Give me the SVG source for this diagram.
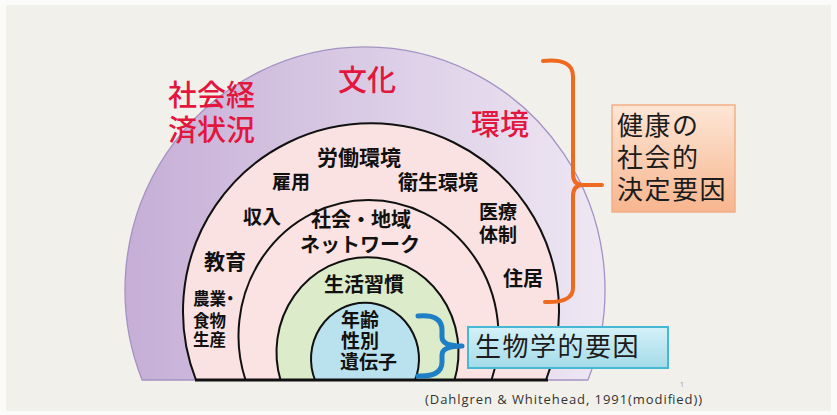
<svg xmlns="http://www.w3.org/2000/svg" width="837" height="415" viewBox="0 0 837 415">
<defs>
<linearGradient id="gPurple" x1="0" y1="0" x2="1" y2="0">
<stop offset="0" stop-color="#c6aed6"/>
<stop offset="0.5" stop-color="#dacbe5"/>
<stop offset="1" stop-color="#eee7f3"/>
</linearGradient>
<linearGradient id="gOrange" x1="0" y1="0" x2="0" y2="1">
<stop offset="0" stop-color="#fde6d6"/>
<stop offset="1" stop-color="#f7b58e"/>
</linearGradient>
<linearGradient id="gBlue" x1="0" y1="0" x2="0" y2="1">
<stop offset="0" stop-color="#d4f1f8"/>
<stop offset="1" stop-color="#a4dbe9"/>
</linearGradient>
<style>
.jp{font-family:"Noto Sans CJK JP","Noto Sans CJK SC",sans-serif}
.red{fill:#e3173e;font-size:29px;font-weight:500}
.lab{fill:#111;font-weight:bold}
.ring{stroke:#111;stroke-width:2}
.box{fill:#1c1c1c;font-size:26px;letter-spacing:1.5px}
</style>
</defs>
<rect width="837" height="415" fill="#fbfbf9"/>
<rect x="6" y="5" width="825" height="406" fill="#f1f0ea"/>

<g id="ring-outer">
<path d="M142.1,380 A240,243 0 1 1 587.9,380 Z" fill="url(#gPurple)" stroke="#a393c4" stroke-width="1.3"/>
</g>
<g id="ring-community">
<path d="M196,380 A188,188 0 1 1 546,380 Z" fill="#fbe2e2" class="ring"/>
</g>
<g id="ring-network">
<path d="M245.5,380 A130,136 0 1 1 491.5,380 Z" fill="#fbe3e3" class="ring"/>
</g>
<g id="ring-lifestyle">
<path d="M280.5,380 A91,95 0 1 1 454.5,380 Z" fill="#dcebca" class="ring"/>
</g>
<g id="ring-bio">
<path d="M315,380 A54,56 0 1 1 415,380 Z" fill="#b9e2ee" class="ring"/>
</g>
<line x1="195" y1="380" x2="548" y2="380" stroke="#111" stroke-width="3"/>

<g id="label-outer" class="jp red">
<text x="168" y="106">社会経</text>
<text x="168" y="141">済状況</text>
<text x="367" y="91" text-anchor="middle">文化</text>
<text x="500" y="135" text-anchor="middle">環境</text>
</g>

<g id="label-community" class="jp lab">
<text x="359" y="165" text-anchor="middle" font-size="21">労働環境</text>
<text x="291" y="189" text-anchor="middle" font-size="19">雇用</text>
<text x="438" y="190" text-anchor="middle" font-size="20">衛生環境</text>
<text x="262" y="224" text-anchor="middle" font-size="19">収入</text>
<text x="225" y="269" text-anchor="middle" font-size="21">教育</text>
<text x="193" y="305" font-size="16.5">農業<tspan dx="-4">・</tspan></text>
<text x="193" y="327" font-size="16.5">食物</text>
<text x="193" y="346" font-size="16.5">生産</text>
<text x="479" y="219" font-size="19">医療</text>
<text x="479" y="242" font-size="19">体制</text>
<text x="523" y="286" text-anchor="middle" font-size="20">住居</text>
</g>

<g id="label-network" class="jp lab">
<text x="361" y="227" text-anchor="middle" font-size="20">社会・地域</text>
<text x="360" y="252" text-anchor="middle" font-size="20">ネットワーク</text>
</g>

<g id="label-lifestyle" class="jp lab">
<text x="364" y="292" text-anchor="middle" font-size="20">生活習慣</text>
</g>

<g id="label-bio" class="jp lab" font-size="19">
<text x="341" y="327">年齢</text>
<text x="341" y="348">性別</text>
<text x="340" y="369">遺伝子</text>
</g>

<g id="connectors" fill="none" stroke-linecap="round" stroke-linejoin="round">
<path d="M543,61 Q573,58 573,76 L573,174 Q573,185 583,185 L602,185 M583,185 Q573,185 573,196 L573,288 Q573,303 545,302" stroke="#ee6a20" stroke-width="4"/>
<path d="M418,316 Q442,314 442,330 L442,337 Q442,346 462,346 M462,346 Q442,346 442,355 L442,362 Q442,377 418,376" stroke="#1f7fc5" stroke-width="5"/>
</g>

<g id="box-social">
<rect x="612" y="105" width="123" height="107" fill="url(#gOrange)" stroke="#f3ae85" stroke-width="1.5"/>
<text class="jp box" x="617" y="135">健康の</text>
<text class="jp box" x="617" y="167">社会的</text>
<text class="jp box" x="617" y="199">決定要因</text>
</g>

<g id="box-bio">
<rect x="468" y="327" width="200" height="41" fill="url(#gBlue)" stroke="#45b8d3" stroke-width="2"/>
<text class="jp box" x="475" y="356" font-size="27">生物学的要因</text>
</g>

<text x="680" y="387" font-family="Open Sans, sans-serif" font-size="7" fill="#999">1</text>
<text x="425" y="404" font-family="Open Sans, sans-serif" font-size="13" fill="#333" textLength="277">(Dahlgren &amp; Whitehead, 1991(modified))</text>
</svg>
